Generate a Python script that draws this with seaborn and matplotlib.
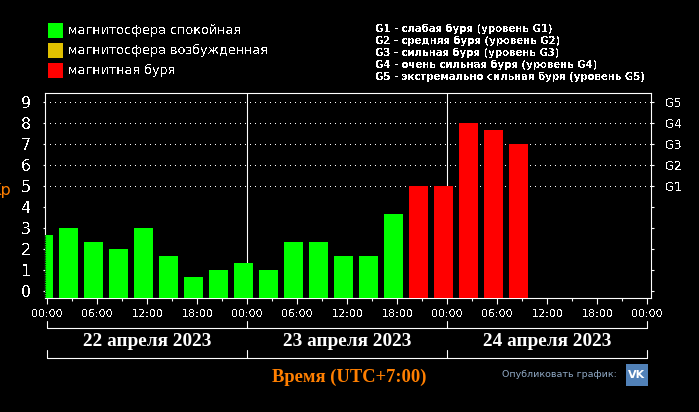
import numpy as np
import pandas as pd
import matplotlib
matplotlib.use("Agg")
import matplotlib.pyplot as plt
from matplotlib.lines import Line2D
from matplotlib.patches import Rectangle
import seaborn as sns

# three-hour Kp values, 22-24 April 2023
kp = [2.67, 3, 2.33, 2, 3, 1.67, 0.67, 1, 1.33, 1, 2.33, 2.33, 1.67, 1.67,
      3.67, 5, 5, 8, 7.67, 7]
states = ["quiet"] * 15 + ["storm"] * 5
hour_labels = ["00:00", "06:00", "12:00", "18:00"] * 3 + ["00:00"]
day_labels = ["22 апреля 2023", "23 апреля 2023", "24 апреля 2023"]
g_labels = ["G1", "G2", "G3", "G4", "G5"]
legend_labels = ["магнитосфера спокойная", "магнитосфера возбужденная", "магнитная буря"]
legend_colors = ["#00ff00", "#e0c000", "#ff0000"]
storm_labels = [
    "G1 - слабая буря (уровень G1)",
    "G2 - средняя буря (уровень G2)",
    "G3 - сильная буря (уровень G3)",
    "G4 - очень сильная буря (уровень G4)",
    "G5 - экстремально сильная буря (уровень G5)",
]
palette = {"quiet": "#00ff00", "disturbed": "#e0c000", "storm": "#ff0000"}

W, H = 699, 412
sns.set_theme(style="dark", rc={"axes.facecolor": "black", "figure.facecolor": "black"})
plt.rcParams["font.family"] = ["DejaVu Sans"]
plt.rcParams["text.antialiased"] = False

fig = plt.figure(figsize=(W / 100, H / 100), dpi=100)
ax = fig.add_axes([44.5 / W, 1 - 298.3 / H, (650.7 - 44.5) / W, (298.3 - 93.0) / H])

df = pd.DataFrame({"slot": range(len(kp)), "kp": kp, "state": states})
sns.barplot(data=df, x="slot", y="kp", hue="state", palette=palette, dodge=False,
            width=0.76, legend=False, ax=ax, saturation=1, zorder=3)

# bars stand on the frame, not on the zero line
floor = -0.33
for p in ax.patches:
    h = p.get_height()
    p.set_y(floor)
    p.set_height(h - floor)
    p.set_linewidth(0)

ax.set_xlim(0.04, 24.29)
ax.set_ylim(floor, 9.44)
ax.set_xlabel("")
ax.set_ylabel("")

# one day is eight slots, slot 0 sits just before midnight
x0 = 0.152
ax.set_xticks([x0 + 2 * i for i in range(len(hour_labels))], hour_labels, color="white", fontsize=8)
ax.set_xticks([x0 + 1 + 2 * i for i in range(len(hour_labels) - 1)], minor=True)
ax.set_yticks(range(10), [str(i) for i in range(10)], color="white", fontsize=11.5)
ax.tick_params(axis="x", which="major", color="white", width=0.8, length=4, pad=4, bottom=True)
ax.tick_params(axis="x", which="minor", color="white", width=0.8, length=2, bottom=True)
ax.tick_params(axis="y", color="white", width=0.8, length=1.5, pad=8, left=True)
for s in ax.spines.values():
    s.set_color("white")
    s.set_linewidth(0.8)
    s.set_visible(True)

right = ax.twinx()
right.set_ylim(ax.get_ylim())
right.set_yticks(range(10), [""] * 5 + g_labels, color="white", fontsize=8.5)
right.tick_params(axis="y", color="white", width=0.8, length=2, pad=8.5, right=True)
right.grid(False)
for s in right.spines.values():
    s.set_visible(False)

ax.grid(False)
for v in range(5, 10):
    ax.axhline(v, color="white", lw=0.72, ls=(0, (1, 5)), zorder=1, antialiased=False)
for d in (1, 2):
    ax.axvline(x0 + 8 * d, color="white", lw=0.8, zorder=2)
# dithered left edge of the clipped first bar
ax.plot([0.07, 0.07], [floor, kp[0]], color="black", lw=0.8, ls=(0, (1, 1)), zorder=4)


def px_line(xs, ys):
    fig.add_artist(Line2D([x / W for x in xs], [1 - y / H for y in ys], color="white", lw=0.8))


# day brackets
day_x = [47.3, 247.3, 447.3, 647.3]
for yb, yt in ((328, 321), (358, 350)):
    px_line([day_x[0], day_x[-1]], [yb, yb])
    for x in day_x:
        px_line([x, x], [yb, yt])

plt.rcParams["text.antialiased"] = True
for i, lab in enumerate(day_labels):
    fig.text((day_x[i] + 100) / W, 1 - 342 / H, lab, color="white", fontsize=13.9,
             family="Liberation Serif", weight="bold", ha="center", va="center")
fig.text(349.5 / W, 1 - 377 / H, "Время (UTC+7:00)", color="#ff7f00", fontsize=13.3,
         family="Liberation Serif", weight="bold", ha="center", va="center")
fig.text(617 / W, 1 - 374.5 / H, "Опубликовать график:", color="#8fa8c4", fontsize=6.8,
         family="DejaVu Sans", ha="right", va="center")
fig.add_artist(Rectangle((626 / W, 1 - 386 / H), 22 / W, 22 / H, color="#5181b8", lw=0,
                         transform=fig.transFigure))
fig.text(637 / W, 1 - 375 / H, "VK", color="white", fontsize=8, weight="bold",
         ha="center", va="center")
fig.text(11 / W, 1 - 190 / H, "Kp", color="#ff7f00", fontsize=11.5, ha="right", va="center")
plt.rcParams["text.antialiased"] = False

# legend
for i, (lab, col) in enumerate(zip(legend_labels, legend_colors)):
    yc = 30.5 + 20 * i
    fig.add_artist(Rectangle((48 / W, 1 - (yc + 7.5) / H), 15 / W, 15 / H, color=col, lw=0,
                             transform=fig.transFigure))
    fig.text(68 / W, 1 - yc / H, lab, color="white", fontsize=9.2, ha="left", va="center")
for i, lab in enumerate(storm_labels):
    fig.text(375 / W, 1 - (29 + 12 * i) / H, lab, color="white", fontsize=7.3, weight="bold",
             ha="left", va="center")

fig.savefig("out.png", dpi=100, facecolor="black")
